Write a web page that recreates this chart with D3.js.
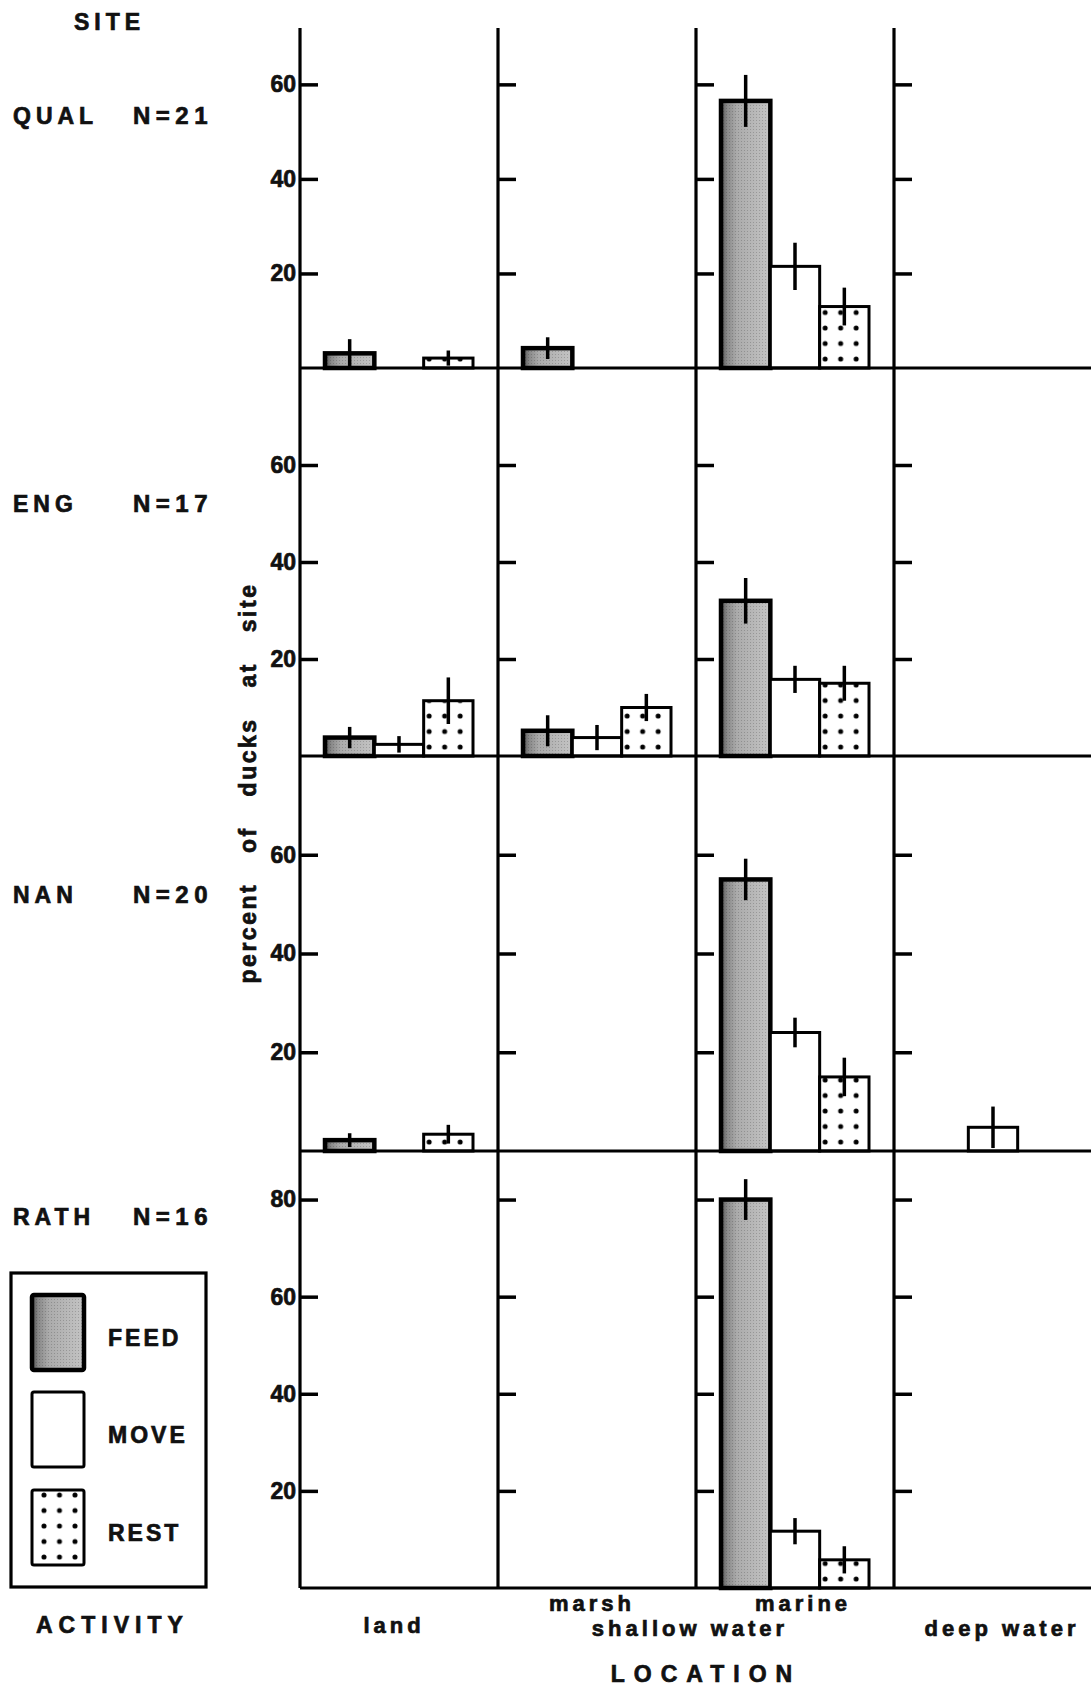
<!DOCTYPE html>
<html>
<head>
<meta charset="UTF-8">
<title>Duck activity by location</title>
<script src="https://d3js.org/d3.v7.min.js"></script>
<style>
  body { margin: 0; background: #fff; }
  svg text { font-family: "Liberation Sans", Arial, sans-serif; font-weight: bold; fill: #111; stroke: #111; stroke-width: 0.7px; }
</style>
</head>
<body>
<div id="chart"></div>
<script>
    // sites, sample sizes, categories
    var sites = ["QUAL", "ENG", "NAN", "RATH"];
    var siteN = [21, 17, 20, 16];
    var locations = ["land", "marsh", "marine", "deep water"];
    var activities = ["FEED", "MOVE", "REST"];

    // top of the percent axis for each site, and the labelled ticks
    var yMax = [71.5, 80, 80, 90];
    var yTicks = [[20, 40, 60], [20, 40, 60], [20, 40, 60], [20, 40, 60, 80]];

    // mean percent of ducks at site, per location: [feed, move, rest]
    var qualMean = [[3.1, 0, 2.1], [4.2, 0, 0], [56.5, 21.5, 13], [0, 0, 0]];
    var qualErr  = [[3.0, 0, 1.6], [2.3, 0, 0], [5.5, 5.0, 4.0], [0, 0, 0]];
    var engMean  = [[3.8, 2.4, 11.4], [5.2, 3.8, 10], [32, 15.8, 15], [0, 0, 0]];
    var engErr   = [[2.2, 1.7, 4.8], [3.2, 2.6, 2.8], [4.7, 2.8, 3.6], [0, 0, 0]];
    var nanMean  = [[2.2, 0, 3.4], [0, 0, 0], [55, 24, 15], [0, 4.8, 0]];
    var nanErr   = [[1.4, 0, 1.9], [0, 0, 0], [4.2, 3.0, 3.9], [0, 4.2, 0]];
    var rathMean = [[0, 0, 0], [0, 0, 0], [80, 11.7, 5.8], [0, 0, 0]];
    var rathErr  = [[0, 0, 0], [0, 0, 0], [4.2, 2.7, 2.8], [0, 0, 0]];

    var means = [qualMean, engMean, nanMean, rathMean],
        errs = [qualErr, engErr, nanErr, rathErr];

    // layout
    var width = 1091, height = 1698,
        rowEdges = [30, 368, 756, 1151, 1588],
        siteLabelY = [116, 504, 895, 1217];

    var svg = d3.select("#chart")
        .append("svg")
        .attr("width", width)
        .attr("height", height);

    var defs = svg.append("defs");

    // grey stipple for FEED, darker on the left edge
    var grad = defs.append("linearGradient").attr("id", "feedGrad");
    grad.append("stop").attr("offset", "0%").attr("stop-color", "#4e4e4e");
    grad.append("stop").attr("offset", "12%").attr("stop-color", "#888");
    grad.append("stop").attr("offset", "32%").attr("stop-color", "#ababab");
    grad.append("stop").attr("offset", "100%").attr("stop-color", "#c4c4c4");
    var stip = defs.append("pattern").attr("id", "stipple")
        .attr("patternUnits", "userSpaceOnUse").attr("width", 3).attr("height", 3);
    stip.append("rect").attr("width", 1).attr("height", 1).attr("fill", "#000").attr("opacity", 0.18);

    // dotted fill for REST, one pattern per bar so the dots line up
    function dotPattern(id, x0, y0) {
        var p = defs.append("pattern").attr("id", id)
            .attr("patternUnits", "userSpaceOnUse")
            .attr("x", x0 - 7.75).attr("y", y0 - 7.75)
            .attr("width", 15.5).attr("height", 15.5);
        p.append("rect").attr("width", 15.5).attr("height", 15.5).attr("fill", "#fff");
        p.append("circle").attr("cx", 7.75).attr("cy", 7.75).attr("r", 2.5).attr("fill", "#000");
        return "url(#" + id + ")";
    }

    var x = d3.scaleBand().domain(locations).range([300, 1092]);
    var xa = d3.scaleBand().domain(activities).range([25, x.bandwidth() - 25]);
    var ys = sites.map(function(s, i) {
        return d3.scaleLinear().domain([0, yMax[i]]).range([rowEdges[i + 1], rowEdges[i]]);
    });

    var data = [];
    sites.forEach(function(s, i) {
        locations.forEach(function(loc, j) {
            activities.forEach(function(act, k) {
                if (means[i][j][k] > 0)
                    data.push({site: i, loc: loc, act: act, v: means[i][j][k], e: errs[i][j][k]});
            });
        });
    });

    var plot = svg.append("g");

    // bars
    data.forEach(function(d, n) {
        var y = ys[d.site],
            bx = x(d.loc) + xa(d.act),
            bw = xa.bandwidth();
        var r = plot.append("rect")
            .attr("x", bx).attr("y", y(d.v))
            .attr("width", bw).attr("height", y(0) - y(d.v))
            .attr("stroke", "#000");
        if (d.act === "FEED") {
            r.attr("fill", "url(#feedGrad)").attr("stroke-width", 4.5);
            plot.append("rect")
                .attr("x", bx + 2).attr("y", y(d.v) + 2)
                .attr("width", bw - 4).attr("height", Math.max(0, y(0) - y(d.v) - 4))
                .attr("fill", "url(#stipple)");
        } else if (d.act === "MOVE") {
            r.attr("fill", "#fff").attr("stroke-width", 3);
        } else {
            r.attr("fill", dotPattern("dots" + n, bx + 5.5, y(0) - 9)).attr("stroke-width", 3);
        }
    });

    // error bars
    plot.selectAll(".err")
        .data(data.filter(function(d) { return d.e > 0; }))
        .enter().append("line")
        .attr("x1", function(d) { return x(d.loc) + xa(d.act) + xa.bandwidth() / 2; })
        .attr("x2", function(d) { return x(d.loc) + xa(d.act) + xa.bandwidth() / 2; })
        .attr("y1", function(d) { return ys[d.site](d.v + d.e); })
        .attr("y2", function(d) { return ys[d.site](Math.max(0, d.v - d.e)); })
        .attr("stroke", "#000").attr("stroke-width", 3.5);

    // baselines of each site panel
    sites.forEach(function(s, i) {
        svg.append("line")
            .attr("x1", 300).attr("x2", width)
            .attr("y1", ys[i](0)).attr("y2", ys[i](0))
            .attr("stroke", "#000").attr("stroke-width", 3.2);
    });

    // location dividers
    locations.forEach(function(loc) {
        svg.append("line")
            .attr("x1", x(loc)).attr("x2", x(loc))
            .attr("y1", rowEdges[0] - 2).attr("y2", rowEdges[4])
            .attr("stroke", "#000").attr("stroke-width", 3.2);
    });

    // ticks on every divider, labels on the first
    sites.forEach(function(s, i) {
        locations.forEach(function(loc, j) {
            var ax = d3.axisLeft(ys[i]).tickValues(yTicks[i]).tickSize(-18).tickPadding(4);
            if (j > 0) ax.tickFormat("");
            var g = svg.append("g")
                .attr("transform", "translate(" + x(loc) + ",0)")
                .call(ax);
            g.select(".domain").remove();
            g.selectAll(".tick line").attr("stroke", "#000").attr("stroke-width", 3.5);
            g.selectAll(".tick text")
                .style("font-family", "'Liberation Sans', Arial, sans-serif")
                .style("font-weight", "bold")
                .style("font-size", "23px")
                .attr("fill", "#111");
        });
    });

    // site labels
    svg.append("text").attr("x", 74).attr("y", 30)
        .style("font-size", "23px").style("letter-spacing", "5px").text("SITE");
    sites.forEach(function(s, i) {
        svg.append("text").attr("x", 13).attr("y", siteLabelY[i] + 8)
            .style("font-size", "23px").style("letter-spacing", "5px").text(s);
        svg.append("text").attr("x", 133).attr("y", siteLabelY[i] + 8)
            .style("font-size", "24px").style("letter-spacing", "5.5px").text("N=" + siteN[i]);
    });

    // y axis title
    svg.append("text")
        .attr("transform", "translate(256,783) rotate(-90)")
        .attr("text-anchor", "middle")
        .style("font-size", "23px").style("letter-spacing", "2.5px").style("word-spacing", "21px")
        .text("percent of ducks at site");

    // location labels
    var lab = function(t, cx, by) {
        svg.append("text").attr("x", cx).attr("y", by).attr("text-anchor", "middle")
            .style("font-size", "22px").style("letter-spacing", "4px").text(t);
    };
    var mid = function(loc) { return x(loc) + x.bandwidth() / 2; };
    lab("land", mid("land") - 5, 1633);
    lab("marsh", mid("marsh") - 5, 1611);
    lab("marine", mid("marine") + 8, 1611);
    lab("shallow water", x("marine") - 6, 1636);
    lab("deep water", mid("deep water") + 9, 1636);
    svg.append("text").attr("x", 706).attr("y", 1682).attr("text-anchor", "middle")
        .style("font-size", "23px").style("letter-spacing", "9px").text("LOCATION");

    // legend
    var legend = svg.append("g");
    legend.append("rect").attr("x", 11).attr("y", 1273).attr("width", 195).attr("height", 314)
        .attr("fill", "none").attr("stroke", "#000").attr("stroke-width", 3.2);
    var swY = [1295, 1392, 1490];
    activities.forEach(function(act, k) {
        var sw = legend.append("rect").attr("x", 32).attr("y", swY[k])
            .attr("width", 52).attr("height", 75).attr("rx", 2)
            .attr("stroke", "#000");
        if (act === "FEED") {
            sw.attr("fill", "url(#feedGrad)").attr("stroke-width", 4.5);
            legend.append("rect").attr("x", 34).attr("y", swY[k] + 2)
                .attr("width", 48).attr("height", 71).attr("fill", "url(#stipple)");
        } else if (act === "MOVE") {
            sw.attr("fill", "#fff").attr("stroke-width", 3);
        } else {
            sw.attr("fill", dotPattern("legdots", 44, swY[k] + 67)).attr("stroke-width", 3);
        }
        legend.append("text").attr("x", 108).attr("y", swY[k] + 43 + 8)
            .style("font-size", "23px").style("letter-spacing", "3px").text(act);
    });
    svg.append("text").attr("x", 36).attr("y", 1633)
        .style("font-size", "23px").style("letter-spacing", "6px").text("ACTIVITY");
</script>
</body>
</html>
